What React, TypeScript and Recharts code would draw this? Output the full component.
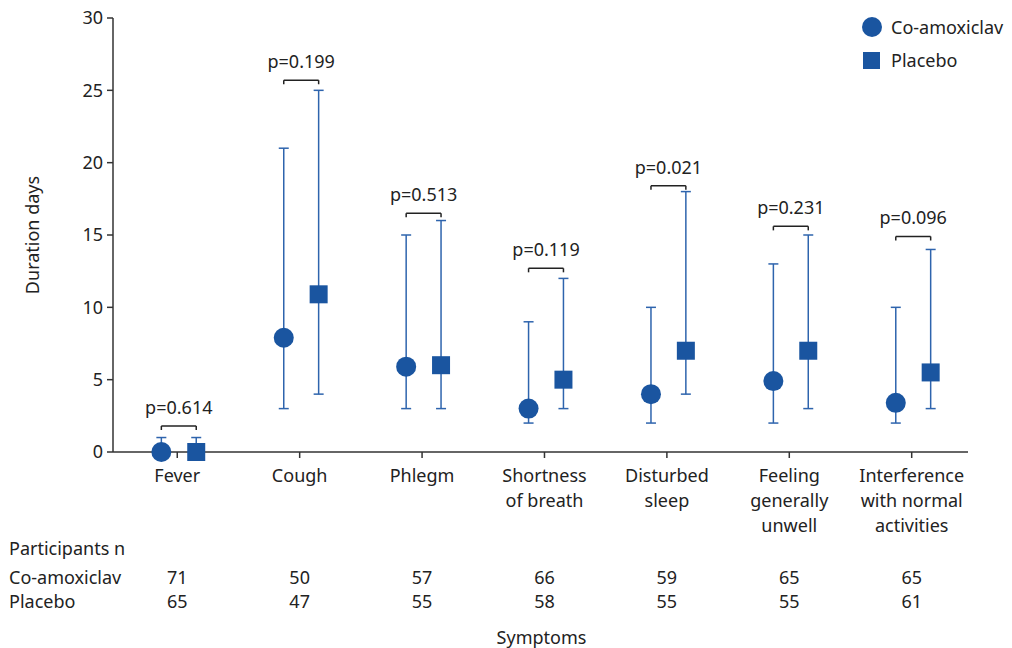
import {
  ComposedChart,
  ErrorBar,
  ReferenceLine,
  Scatter,
  XAxis,
  YAxis,
} from "recharts";

const categories = [
  "Fever",
  "Cough",
  "Phlegm",
  "Shortness\nof breath",
  "Disturbed\nsleep",
  "Feeling\ngenerally\nunwell",
  "Interference\nwith normal\nactivities",
];

// medians and ranges in days
const coMedian = [0, 7.9, 5.9, 3, 4, 4.9, 3.4];
const coLow = [0, 3, 3, 2, 2, 2, 2];
const coHigh = [1, 21, 15, 9, 10, 13, 10];
const plMedian = [0, 10.9, 6, 5, 7, 7, 5.5];
const plLow = [0, 4, 3, 3, 4, 3, 3];
const plHigh = [1, 25, 16, 12, 18, 15, 14];

const pValues = ["0.614", "0.199", "0.513", "0.119", "0.021", "0.231", "0.096"];
const bracketAt = [1.8, 25.7, 16.5, 12.7, 18.4, 15.6, 14.9];

const coN = [71, 50, 57, 66, 59, 65, 65];
const plN = [65, 47, 55, 58, 55, 55, 61];

const yTicks = [0, 5, 10, 15, 20, 25, 30];

const BLUE = "#1a55a0";
const WHISKER = "#2e64ad";
const INK = "#222";
const FONT = "'Noto Sans', sans-serif";

const CO_OFF = -0.13;
const PL_OFF = 0.155;

const coData = categories.map((_, i) => ({
  x: i + CO_OFF,
  y: coMedian[i],
  err: [Math.max(0, coMedian[i] - coLow[i]), coHigh[i] - coMedian[i]],
}));
const plData = categories.map((_, i) => ({
  x: i + PL_OFF,
  y: plMedian[i],
  err: [Math.max(0, plMedian[i] - plLow[i]), plHigh[i] - plMedian[i]],
}));
const pData = categories.map((_, i) => ({
  x: i + (CO_OFF + PL_OFF) / 2,
  y: bracketAt[i],
  label: `p=${pValues[i]}`,
}));

const CircleShape = (props: any) => (
  <circle cx={props.cx} cy={props.cy} r={10} fill={BLUE} />
);
const SquareShape = (props: any) => (
  <rect x={props.cx - 9} y={props.cy - 9} width={18} height={18} fill={BLUE} />
);
const PLabel = (props: any) => (
  <text
    x={props.cx}
    y={props.cy - 19}
    textAnchor="middle"
    dominantBaseline="central"
    fontSize={18}
    fontFamily={FONT}
    fill={INK}
  >
    {props.payload.label}
  </text>
);

const CategoryTick = (props: any) => {
  const { x, y, payload } = props;
  const i = payload.value;
  const lines = categories[i].split("\n");
  return (
    <g fontFamily={FONT} fontSize={18} fill={INK}>
      {lines.map((l, k) => (
        <text
          key={k}
          x={x}
          y={y + 15 + k * 25}
          textAnchor="middle"
          dominantBaseline="central"
        >
          {l}
        </text>
      ))}
      <text x={x} y={y + 117} textAnchor="middle" dominantBaseline="central">
        {coN[i]}
      </text>
      <text x={x} y={y + 141} textAnchor="middle" dominantBaseline="central">
        {plN[i]}
      </text>
    </g>
  );
};

const YLabel = (props: any) => {
  const vb = props.viewBox;
  const cx = vb.x + 32;
  const cy = vb.y + vb.height / 2;
  return (
    <text
      x={cx}
      y={cy}
      transform={`rotate(-90 ${cx} ${cy})`}
      textAnchor="middle"
      dominantBaseline="central"
      fontSize={18}
      fontFamily={FONT}
      fill={INK}
    >
      Duration days
    </text>
  );
};

const textStyle = {
  position: "absolute" as const,
  fontSize: 18,
  color: INK,
  lineHeight: "24px",
  whiteSpace: "nowrap" as const,
};

export default function App() {
  return (
    <div
      style={{
        position: "absolute",
        left: 0,
        top: 0,
        width: 1012,
        height: 648,
        fontFamily: FONT,
        background: "#fff",
      }}
    >
      <ComposedChart
        width={1012}
        height={648}
        margin={{ top: 18, right: 44, bottom: 0, left: 0 }}
      >
        <XAxis
          type="number"
          dataKey="x"
          domain={[-0.525, 6.46]}
          ticks={[0, 1, 2, 3, 4, 5, 6]}
          interval={0}
          height={196}
          stroke="#333"
          strokeWidth={1.5}
          tickSize={6}
          tick={<CategoryTick />}
        />
        <YAxis
          type="number"
          dataKey="y"
          domain={[0, 30]}
          ticks={yTicks}
          width={113}
          stroke="#333"
          strokeWidth={1.5}
          tickSize={6}
          tickMargin={4}
          tick={{ fontSize: 18, fill: INK, fontFamily: FONT }}
          label={<YLabel />}
        />
        {categories.map((_, i) => [
          <ReferenceLine
            key={`h${i}`}
            segment={[
              { x: i + CO_OFF, y: bracketAt[i] },
              { x: i + PL_OFF, y: bracketAt[i] },
            ]}
            stroke={INK}
            strokeWidth={1.5}
          />,
          <ReferenceLine
            key={`l${i}`}
            segment={[
              { x: i + CO_OFF, y: bracketAt[i] },
              { x: i + CO_OFF, y: bracketAt[i] - 0.28 },
            ]}
            stroke={INK}
            strokeWidth={1.5}
          />,
          <ReferenceLine
            key={`r${i}`}
            segment={[
              { x: i + PL_OFF, y: bracketAt[i] },
              { x: i + PL_OFF, y: bracketAt[i] - 0.28 },
            ]}
            stroke={INK}
            strokeWidth={1.5}
          />,
        ])}
        <Scatter
          name="Co-amoxiclav"
          data={coData}
          shape={<CircleShape />}
          isAnimationActive={false}
        >
          <ErrorBar
            dataKey="err"
            direction="y"
            width={5}
            stroke={WHISKER}
            strokeWidth={1.5}
          />
        </Scatter>
        <Scatter
          name="Placebo"
          data={plData}
          shape={<SquareShape />}
          isAnimationActive={false}
        >
          <ErrorBar
            dataKey="err"
            direction="y"
            width={5}
            stroke={WHISKER}
            strokeWidth={1.5}
          />
        </Scatter>
        <Scatter data={pData} shape={<PLabel />} isAnimationActive={false} />
      </ComposedChart>

      {/* legend */}
      <div style={{ ...textStyle, left: 862, top: 15, display: "flex", alignItems: "center" }}>
        <span
          style={{
            display: "inline-block",
            width: 20,
            height: 20,
            borderRadius: 10,
            background: BLUE,
            marginRight: 9,
          }}
        />
        Co-amoxiclav
      </div>
      <div style={{ ...textStyle, left: 863, top: 48, display: "flex", alignItems: "center" }}>
        <span
          style={{
            display: "inline-block",
            width: 17,
            height: 17,
            background: BLUE,
            marginRight: 11,
          }}
        />
        Placebo
      </div>

      {/* participants table row labels */}
      <div style={{ ...textStyle, left: 9, top: 536 }}>Participants n</div>
      <div style={{ ...textStyle, left: 9, top: 565 }}>Co-amoxiclav</div>
      <div style={{ ...textStyle, left: 9, top: 589 }}>Placebo</div>
      <div style={{ ...textStyle, left: 0, width: 1083, textAlign: "center", top: 625 }}>
        Symptoms
      </div>
    </div>
  );
}
